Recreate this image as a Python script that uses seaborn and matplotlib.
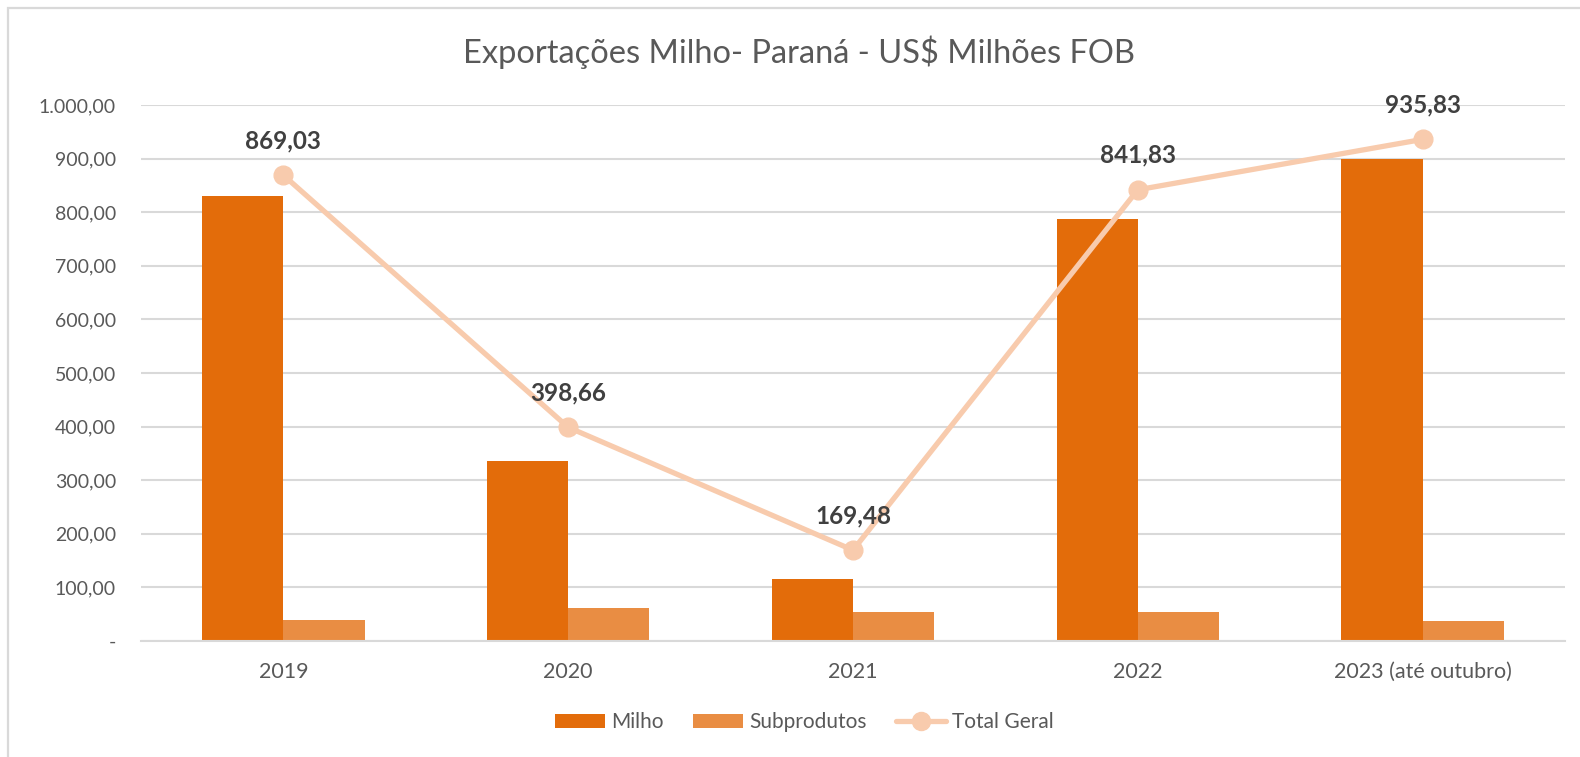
import numpy as np
import pandas as pd
import matplotlib
matplotlib.use("Agg")
import matplotlib.pyplot as plt
import seaborn as sns
from matplotlib.lines import Line2D
from matplotlib.patches import Patch, Rectangle
from matplotlib.ticker import FuncFormatter, MultipleLocator

categories = ["2019", "2020", "2021", "2022", "2023 (até outubro)"]
milho = [830.0, 336.5, 116.0, 787.0, 899.0]
subprodutos = [39.03, 62.16, 53.48, 54.83, 36.83]
total_geral = [869.03, 398.66, 169.48, 841.83, 935.83]
total_labels = ["869,03", "398,66", "169,48", "841,83", "935,83"]

c_milho = "#E36C0A"
c_sub = "#E98D43"
c_total = "#F8CBAD"
txt = "#595959"

sns.set_theme(style="white")
plt.rcParams["font.family"] = ["Lato", "DejaVu Sans"]

df = pd.DataFrame({
    "Ano": categories * 2,
    "Serie": ["Milho"] * len(categories) + ["Subprodutos"] * len(categories),
    "Valor": milho + subprodutos,
})

fig = plt.figure(figsize=(15.8, 7.57), dpi=100)
fig.patch.set_facecolor("white")
fig.patches.append(Rectangle((8 / 1580, -0.05), 1.1, 1 - 8 / 757 + 0.05,
                             transform=fig.transFigure, fill=False,
                             edgecolor="#D9D9D9", linewidth=1.6, zorder=0))
ax = fig.add_axes([141 / 1580, 1 - 641 / 757, 1424 / 1580, 536 / 757])

sns.barplot(data=df, x="Ano", y="Valor", hue="Serie", order=categories,
            hue_order=["Milho", "Subprodutos"], palette=[c_milho, c_sub],
            width=0.57, gap=0, saturation=1, ax=ax, legend=False,
            edgecolor="none", linewidth=0)

xs = np.arange(len(categories))
ax.plot(xs, total_geral, color=c_total, lw=3.8, marker="o", ms=13.5,
        markerfacecolor=c_total, markeredgecolor=c_total, zorder=5,
        solid_capstyle="round")
for x, y, lab in zip(xs, total_geral, total_labels):
    ax.annotate(lab, (x, y), xytext=(0, 25), textcoords="offset points",
                ha="center", va="center", fontsize=17.5, fontweight="bold",
                color="#404040", zorder=6)

ax.set_ylim(0, 1000)
ax.set_xlim(-0.5, len(categories) - 0.5)
ax.yaxis.set_major_locator(MultipleLocator(100))

def fmt(v, pos):
    if abs(v) < 1e-9:
        return "-"
    s = f"{v:,.2f}"
    return s.replace(",", "X").replace(".", ",").replace("X", ".")

ax.yaxis.set_major_formatter(FuncFormatter(fmt))
ax.grid(axis="y", color="#D9D9D9", lw=1.5)
ax.grid(axis="x", visible=False)
ax.set_axisbelow(True)
for s in ["top", "right", "left"]:
    ax.spines[s].set_visible(False)
ax.spines["bottom"].set_color("#D9D9D9")
ax.spines["bottom"].set_linewidth(1.5)
ax.tick_params(axis="x", length=0, labelsize=15.5, colors=txt, pad=15)
ax.tick_params(axis="y", length=0, labelsize=14, colors=txt, pad=18)
ax.set_xlabel("")
ax.set_ylabel("")

fig.text(0.506, 0.931, "Exportações Milho- Paraná - US$ Milhões FOB",
         ha="center", va="center", fontsize=23.5, color=txt)

handles = [Patch(facecolor=c_milho, edgecolor="none"),
           Patch(facecolor=c_sub, edgecolor="none"),
           Line2D([0], [0], color=c_total, lw=3.8, marker="o", ms=13)]
fig.legend(handles, ["Milho", "Subprodutos", "Total Geral"], loc="center",
           bbox_to_anchor=(0.509, 0.046), ncol=3, frameon=False, fontsize=15,
           labelcolor=txt, handlelength=2.4, handletextpad=0.3, columnspacing=1.4)

fig.savefig("out.png", dpi=100, facecolor=fig.get_facecolor())
